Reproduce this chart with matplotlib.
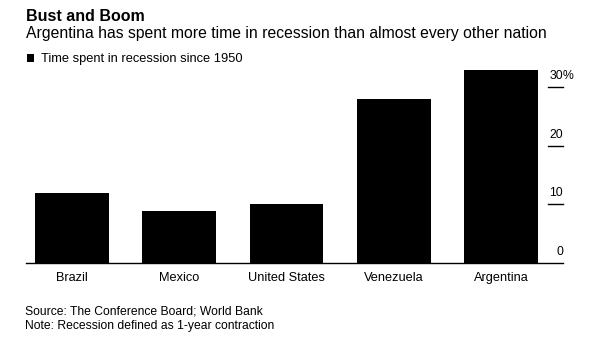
"""Bar chart: share of time spent in recession since 1950."""

import matplotlib
matplotlib.use("Agg")
import matplotlib.pyplot as plt
import numpy as np

plt.rcParams["font.family"] = ["Liberation Sans", "DejaVu Sans"]

countries = ["Brazil", "Mexico", "United States", "Venezuela", "Argentina"]
recession_pct = [12.0, 8.9, 10.0, 28.0, 33.0]
y_ticks = [0, 10, 20, 30]

fig = plt.figure(figsize=(6.05, 3.41), dpi=100, facecolor="white")
ax = fig.add_axes([0.043, 0.2296, 0.8877, 0.583])

x = np.arange(len(countries))
ax.bar(x, recession_pct, width=0.69, color="black", zorder=2)

x_left, x_right = -0.43, 4.58
ax.set_xlim(x_left, x_right)
ax.set_ylim(0, 34)
ax.axis("off")

# baseline across the full width
ax.plot([x_left, x_right], [0, 0], color="black", linewidth=1.0, zorder=3,
        clip_on=False)

# right-side value scale: short rule with the number sitting above it
tick_x0 = 4.435
for v in y_ticks:
    if v > 0:
        ax.plot([tick_x0, x_right], [v, v], color="black", linewidth=1.0,
                clip_on=False)
    ax.text(x_right, v + 1.35, f"{v}", ha="right", va="baseline",
            fontsize=8.8, color="black")
    if v == y_ticks[-1]:
        ax.text(x_right, v + 1.35, "%", ha="left", va="baseline",
                fontsize=8.8, color="black")

for xi, name in zip(x, countries):
    ax.annotate(name, (xi, 0), xytext=(0, -13.5), textcoords="offset points",
                ha="center", va="baseline", fontsize=9.2, color="black",
                annotation_clip=False)

fig.text(0.043, 0.939, "Bust and Boom", fontsize=11.5, fontweight="bold",
         ha="left", va="baseline")
fig.text(0.043, 0.888,
         "Argentina has spent more time in recession than almost every other nation",
         fontsize=11.3, ha="left", va="baseline")
fig.patches.append(matplotlib.patches.Rectangle(
    (0.044, 1 - 61.7 / 341), 7 / 605, 7.4 / 341, transform=fig.transFigure,
    facecolor="black", edgecolor="none"))
fig.text(0.067, 1 - 61.7 / 341, "Time spent in recession since 1950",
         fontsize=9.3, ha="left", va="baseline")

fig.text(0.042, 1 - 315 / 341, "Source: The Conference Board; World Bank",
         fontsize=8.7, ha="left", va="baseline")
fig.text(0.042, 1 - 329.5 / 341, "Note: Recession defined as 1-year contraction",
         fontsize=8.7, ha="left", va="baseline")

fig.savefig("out.png", dpi=100, facecolor="white")
